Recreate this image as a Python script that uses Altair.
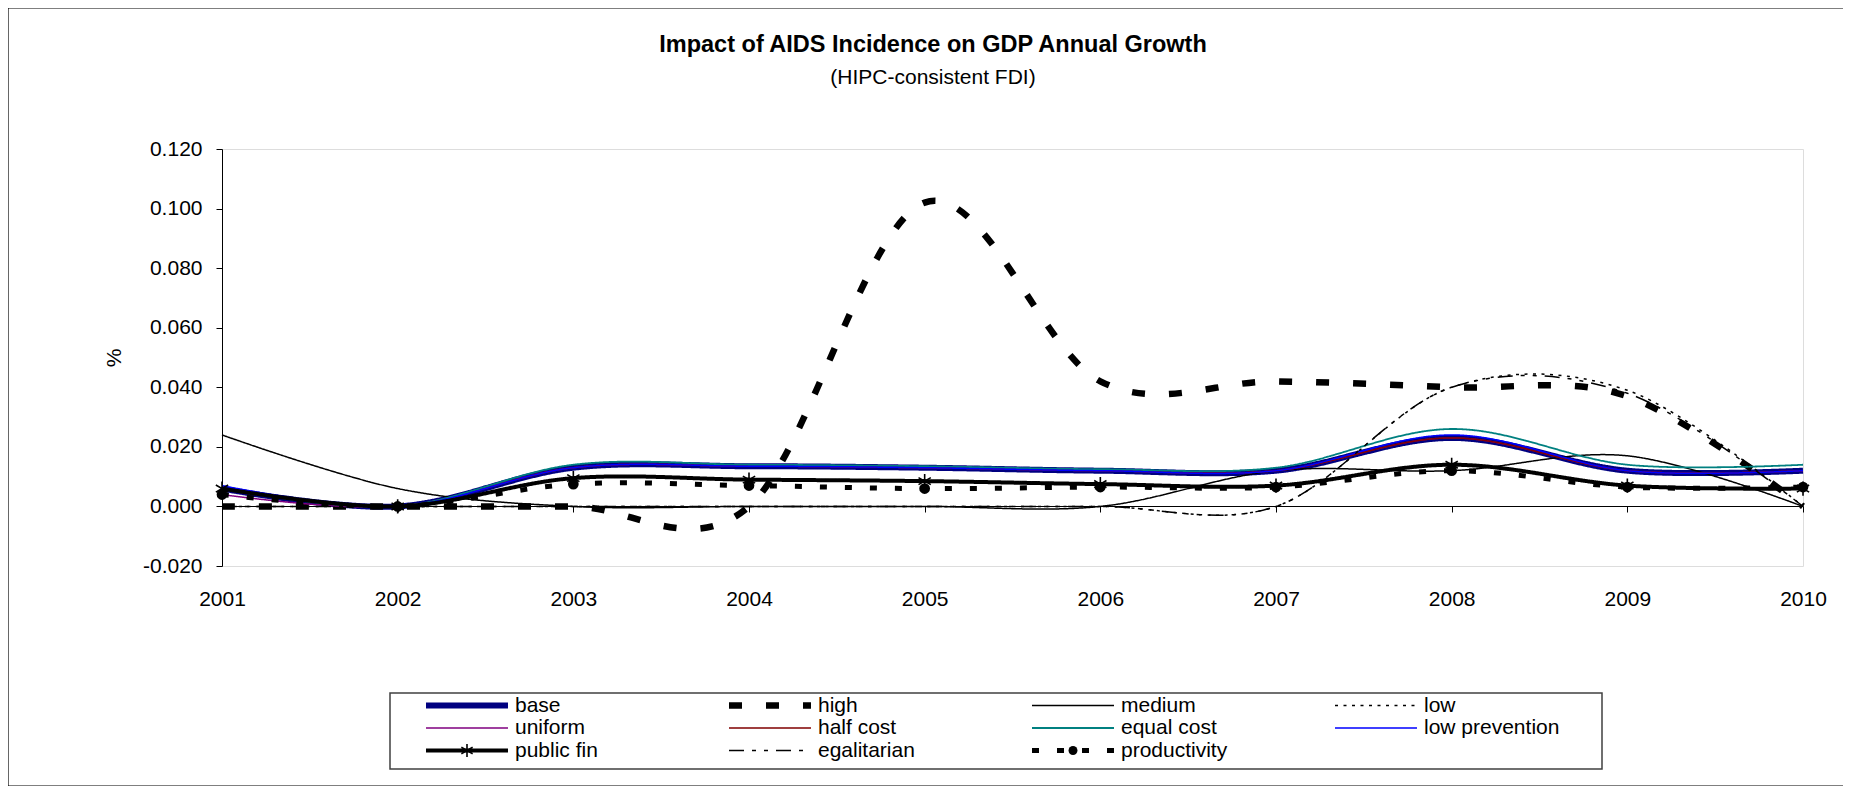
import altair as alt
import pandas as pd

FONT = "Liberation Sans"

years = [2001, 2002, 2003, 2004, 2005, 2006, 2007, 2008, 2009, 2010]
series_names = ["base", "high", "medium", "low", "uniform", "half cost",
                "equal cost", "low prevention", "public fin", "egalitarian",
                "productivity"]

base = [0.006, 0.000, 0.013, 0.0135, 0.013, 0.012, 0.012, 0.023, 0.012, 0.012]
high = [0.000, 0.000, 0.000, 0.000, 0.102, 0.042, 0.042, 0.040, 0.037, 0.000]
medium = [0.024, 0.006, 0.000, 0.000, 0.000, 0.000, 0.012, 0.012, 0.017, 0.000]
low = [0.000, 0.000, 0.000, 0.000, 0.000, 0.000, 0.000, 0.040, 0.039, 0.000]
uniform = [0.004, 0.000, 0.013, 0.0135, 0.013, 0.012, 0.012, 0.023, 0.012, 0.012]
half_cost = [0.006, 0.000, 0.013, 0.0135, 0.013, 0.012, 0.012, 0.023, 0.012, 0.012]
equal_cost = [0.006, 0.000, 0.014, 0.014, 0.0135, 0.0125, 0.013, 0.026, 0.014, 0.014]
low_prevention = [0.007, 0.000, 0.013, 0.0135, 0.013, 0.012, 0.012, 0.024, 0.012, 0.012]
public_fin = [0.006, 0.000, 0.0095, 0.009, 0.0085, 0.0075, 0.007, 0.014, 0.007, 0.006]
egalitarian = [0.000, 0.000, 0.000, 0.000, 0.000, 0.000, 0.000, 0.040, 0.038, 0.000]
productivity = [0.004, 0.000, 0.0075, 0.007, 0.006, 0.0065, 0.0065, 0.012, 0.0065, 0.0065]

series_values = [base, high, medium, low, uniform, half_cost, equal_cost,
                 low_prevention, public_fin, egalitarian, productivity]

series_colors = ["#000080", "#000000", "#000000", "#000000", "#800080", "#800000",
                 "#008080", "#0000FF", "#000000", "#000000", "#000000"]
series_dashes = [[1, 0], [13, 24], [1, 0], [3, 5.5], [1, 0], [1, 0],
                 [1, 0], [1, 0], [1, 0], [15, 8, 4, 8, 4, 8], [7, 18]]
series_widths = [6, 6.5, 1.5, 1.5, 1.5, 1.5, 1.8, 1.5, 4, 1.5, 5]

y_ticks = [-0.02, 0.0, 0.02, 0.04, 0.06, 0.08, 0.10, 0.12]

title_text = "Impact of AIDS Incidence on GDP Annual Growth"
subtitle_text = "(HIPC-consistent FDI)"

rows = []
for i, (name, vals) in enumerate(zip(series_names, series_values)):
    for yr, v in zip(years, vals):
        rows.append({"year": yr, "value": v, "series": name, "k": i})
df = pd.DataFrame(rows)

# legend table: 4 entries per row, in series order
legend_df = pd.DataFrame({
    "series": series_names,
    "col": [i % 4 for i in range(len(series_names))],
    "row": [i // 4 for i in range(len(series_names))],
})

STAR_MARK = "M0,-1V1M-0.87,-0.5L0.87,0.5M-0.87,0.5L0.87,-0.5"

color_scale = alt.Scale(domain=series_names, range=series_colors)
dash_scale = alt.Scale(type="ordinal", domain=series_names, range=series_dashes)
width_scale = alt.Scale(type="ordinal", domain=series_names, range=series_widths)

x_enc = alt.X("year:Q",
              scale=alt.Scale(domain=[2001, 2010], nice=False, zero=False),
              axis=alt.Axis(values=years, format="d", title=None, offset=-60,
                            domainColor="black", tickColor="black", tickSize=6,
                            labelPadding=76, labelFontSize=21, labelFont=FONT,
                            labelColor="black", grid=False, labelFlush=False,
                            labelOverlap=False))
y_enc = alt.Y("value:Q",
              scale=alt.Scale(domain=[-0.02, 0.12], nice=False, zero=False),
              axis=alt.Axis(values=y_ticks,
                            labelExpr="replace(format(datum.value, '.3f'), '\u2212', '-')",
                            title="%", titleAngle=-90, titleX=-108, titleY=208.5,
                            titleAlign="center", titleBaseline="middle",
                            titleFontSize=21, titleFont=FONT, titleFontWeight="normal",
                            titleColor="black",
                            domainColor="black", tickColor="black", tickSize=6,
                            labelPadding=14, labelFontSize=21, labelFont=FONT,
                            labelColor="black", grid=False))

lines = alt.Chart(df).mark_line(interpolate="cardinal", tension=0).encode(
    x=x_enc, y=y_enc,
    color=alt.Color("series:N", scale=color_scale, legend=None),
    strokeDash=alt.StrokeDash("series:N", scale=dash_scale, legend=None),
    strokeWidth=alt.StrokeWidth("series:N", scale=width_scale, legend=None),
    detail="k:N",
)

stars = alt.Chart(df).transform_filter(alt.datum.series == "public fin").mark_point(
    shape=STAR_MARK, size=200, filled=False, color="black", strokeWidth=1.6, opacity=1
).encode(x="year:Q", y="value:Q")

dots = alt.Chart(df).transform_filter(alt.datum.series == "productivity").mark_point(
    shape="circle", size=115, filled=True, color="black", opacity=1
).encode(x="year:Q", y="value:Q")

one = pd.DataFrame({"f": [0]})

frame = alt.Chart(one).mark_rect(
    fill="transparent", stroke="black", strokeWidth=1.2
).encode(x=alt.value(-214), x2=alt.value(1636), y=alt.value(-141), y2=alt.value(637))

legend_box = alt.Chart(one).mark_rect(
    fill="transparent", stroke="#404040", strokeWidth=1.5
).encode(x=alt.value(168), x2=alt.value(1380), y=alt.value(544), y2=alt.value(620))

title_mark = alt.Chart(one).mark_text(
    font=FONT, fontSize=23.5, fontWeight="bold", color="black", align="center",
    baseline="alphabetic"
).encode(x=alt.value(711), y=alt.value(-97), text=alt.value(title_text))

subtitle_mark = alt.Chart(one).mark_text(
    font=FONT, fontSize=21, color="black", align="center", baseline="alphabetic"
).encode(x=alt.value(711), y=alt.value(-65), text=alt.value(subtitle_text))

main = alt.layer(frame, legend_box, title_mark, subtitle_mark, lines, stars, dots)

# ---- legend drawn from the series table through its own scales ----
lx = alt.Scale(domain=[0, 4], range=[204, 1416])
ly = alt.Scale(domain=[0, 2], range=[556.5, 601.5])

leg_base = alt.Chart(legend_df).transform_calculate(
    x_end="datum.col + 0.2706", x_mid="datum.col + 0.1353", x_txt="datum.col + 0.2937"
)

leg_rules = leg_base.mark_rule().encode(
    x=alt.X("col:Q", scale=lx, axis=None),
    x2="x_end:Q",
    y=alt.Y("row:Q", scale=ly, axis=None),
    color=alt.Color("series:N", scale=color_scale, legend=None),
    strokeDash=alt.StrokeDash("series:N", scale=dash_scale, legend=None),
    strokeWidth=alt.StrokeWidth("series:N", scale=width_scale, legend=None),
)

leg_star = leg_base.transform_filter(alt.datum.series == "public fin").mark_point(
    shape=STAR_MARK, size=169, filled=False, color="black", strokeWidth=1.6, opacity=1
).encode(x=alt.X("x_mid:Q", scale=lx, axis=None), y=alt.Y("row:Q", scale=ly, axis=None))

leg_dot = leg_base.transform_filter(alt.datum.series == "productivity").mark_point(
    shape="circle", size=80, filled=True, color="black", opacity=1
).encode(x=alt.X("x_mid:Q", scale=lx, axis=None), y=alt.Y("row:Q", scale=ly, axis=None))

leg_text = leg_base.mark_text(
    align="left", baseline="middle", font=FONT, fontSize=21, color="black"
).encode(
    x=alt.X("x_txt:Q", scale=lx, axis=None),
    y=alt.Y("row:Q", scale=ly, axis=None),
    text="series:N",
)

legend_layer = alt.layer(leg_rules, leg_star, leg_dot, leg_text)

chart = alt.layer(main, legend_layer).resolve_scale(
    x="independent", y="independent"
).properties(
    width=1581, height=417,
    autosize=alt.AutoSizeParams(type="none"),
    padding={"left": 214, "top": 141, "right": 40, "bottom": 220},
).configure_view(stroke="#808080", strokeWidth=1.2).configure(background="white")

chart.save("out.html", embed_options={"renderer": "svg", "actions": False})
